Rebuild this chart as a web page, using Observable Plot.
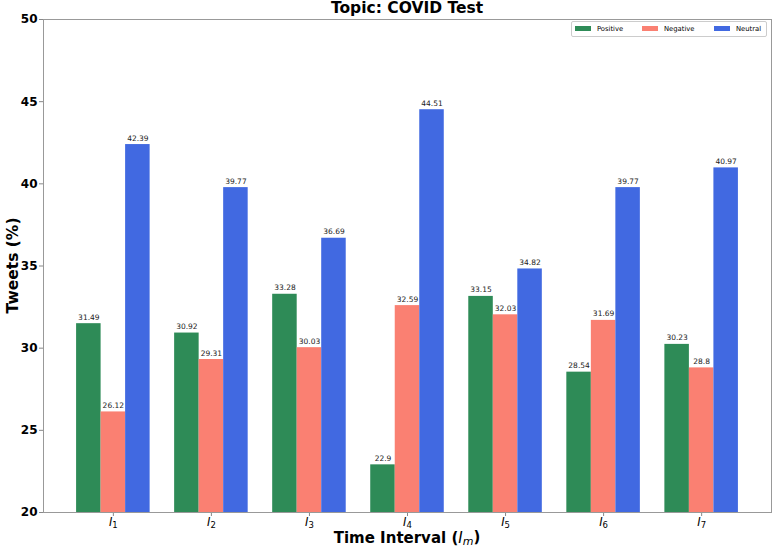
<!DOCTYPE html>
<html><head><meta charset="utf-8">
<script src="https://cdn.jsdelivr.net/npm/d3@7"></script>
<script src="https://cdn.jsdelivr.net/npm/@observablehq/plot@0.6"></script>
<style>
body{margin:0;background:#fff;font-family:"DejaVu Sans",sans-serif;}
#wrap{position:relative;width:774px;height:549px;overflow:hidden;}
#title{position:absolute;left:0;top:0;width:774px;height:17px;box-sizing:border-box;padding-left:43px;padding-right:3px;text-align:center;font-weight:bold;font-size:15.5px;line-height:17px;color:#000;}
#legend{position:absolute;left:571px;top:21px;width:196px;height:16px;box-sizing:border-box;border:1px solid #ccc;border-radius:2px;background:rgba(255,255,255,0.85);font-size:6.8px;color:#000;}
#legend .it{position:absolute;top:0;height:14px;line-height:14px;white-space:nowrap;}
#legend .sw{display:inline-block;width:16px;height:5px;vertical-align:middle;margin-right:6px;position:relative;top:-1px;}
svg{display:block;}
</style></head><body>
<div id="wrap"><div id="chart"></div><div id="title"></div><div id="legend"></div></div>
<script>
const title = "Topic: COVID Test";
const intervals = ["1", "2", "3", "4", "5", "6", "7"];
const series = ["Positive", "Negative", "Neutral"];
const colors = ["#2E8B57", "#FA8072", "#4169E1"];
const positive = [31.49, 30.92, 33.28, 22.9, 33.15, 28.54, 30.23];
const negative = [26.12, 29.31, 30.03, 32.59, 32.03, 31.69, 28.8];
const neutral  = [42.39, 39.77, 36.69, 44.51, 34.82, 39.77, 40.97];
const yTicks = [20, 25, 30, 35, 40, 45, 50];
const yLabel = "Tweets (%)";
const xLabelMain = "Time Interval (";
const xLabelVar = "I";
const xLabelSub = "m";

document.getElementById("title").textContent = title;

const values = [positive, negative, neutral];
const data = intervals.flatMap((lab, i) => series.map((s, j) => ({i, lab, s, j, v: values[j][i]})));
const W = 0.25;
const cx = d => d.i + (d.j - 1) * W;

const plot = Plot.plot({
  width: 774, height: 549,
  marginTop: 19, marginBottom: 37, marginLeft: 43, marginRight: 3,
  style: {fontFamily: "DejaVu Sans", background: "#fff", color: "#000"},
  x: {domain: [-0.7125, 6.7125]},
  y: {domain: [20, 50]},
  color: {domain: series, range: colors},
  marks: [
    Plot.rectY(data, {x1: d => cx(d) - W / 2, x2: d => cx(d) + W / 2, y1: 20, y2: "v", fill: "s", insetLeft: 0, insetRight: 0}),
    Plot.text(data, {x: cx, y: "v", text: d => String(d.v), lineAnchor: "bottom", dy: -4, fontSize: 7.5, fill: "#222"}),
    Plot.axisY({ticks: yTicks, tickSize: 4, tickPadding: 2, stroke: "#888", fill: "#000", fontSize: 12, fontWeight: "bold", label: null}),
    Plot.axisX({ticks: d3.range(intervals.length), tickFormat: i => "I" + intervals[i], tickSize: 4, tickPadding: 1, stroke: "#888", fill: "#000", fontSize: 11.5, label: null}),
    Plot.frame({stroke: "#999"})
  ]
});
document.getElementById("chart").appendChild(plot);

const svg = d3.select(plot);
// subscripts in x tick labels
svg.selectAll("g[aria-label='x-axis tick label'] text").each(function() {
  const t = d3.select(this);
  const txt = t.text();
  t.text(null);
  t.append("tspan").attr("font-style", "italic").text(txt[0]);
  t.append("tspan").attr("font-size", 8.5).attr("dy", "0.25em").text(txt.slice(1));
});
// y label
svg.append("text")
  .attr("transform", "translate(13," + ((19 + 512) / 2) + ") rotate(-90)")
  .attr("text-anchor", "middle").attr("dy", "0.35em")
  .attr("font-weight", "bold").attr("font-size", 15.5).attr("fill", "#000")
  .text(yLabel);
// x label
const xl = svg.append("text")
  .attr("x", (43 + 771) / 2).attr("y", 543)
  .attr("text-anchor", "middle").attr("font-size", 15).attr("fill", "#000");
xl.append("tspan").attr("font-weight", "bold").text(xLabelMain);
xl.append("tspan").attr("font-style", "italic").text(xLabelVar);
xl.append("tspan").attr("font-style", "italic").attr("font-size", 11).attr("dy", "0.2em").text(xLabelSub);
xl.append("tspan").attr("font-weight", "bold").attr("dy", "-0.2em").text(")");

// legend
const lg = d3.select("#legend");
const lefts = [3, 70, 142];
series.forEach((s, j) => {
  const it = lg.append("div").attr("class", "it").style("left", lefts[j] + "px");
  it.append("span").attr("class", "sw").style("background", colors[j]);
  it.append("span").text(s);
});
</script>
</body></html>
